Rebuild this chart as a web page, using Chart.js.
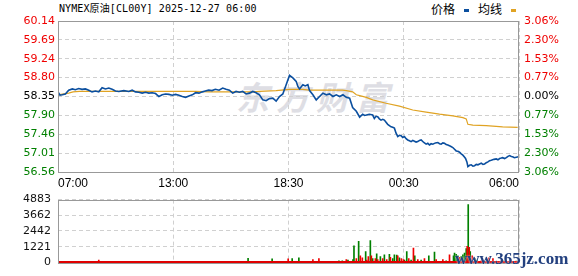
<!DOCTYPE html>
<html>
<head>
<meta charset="utf-8">
<script src="https://cdn.jsdelivr.net/npm/chart.js@4/dist/chart.umd.min.js"></script>
<style>
body{margin:0;background:#fff;width:578px;height:276px;position:relative;overflow:hidden}
canvas{position:absolute;left:0}
#priceChart{top:0}
#volChart{top:186px}
#title{position:absolute;left:59px;top:2px;font:10px "DejaVu Sans Mono","Noto Sans CJK SC",monospace;color:#000;white-space:nowrap;line-height:14px;letter-spacing:0.1px}
#legend{position:absolute;left:431px;top:2px;font:12px "Noto Sans CJK SC",sans-serif;color:#000;line-height:14px;white-space:nowrap}
#legend i{display:inline-block;width:5px;height:3px;vertical-align:middle;margin:0 9px 0 9px}
#wm{position:absolute;left:236px;top:72px;font:italic bold 33px "Noto Sans CJK SC",sans-serif;color:#dedee4;letter-spacing:7px;white-space:nowrap}
#site{position:absolute;left:455px;top:249px;font:bold 17px "Liberation Serif",serif;color:#23407f;white-space:nowrap;text-shadow:0 0 2px #fff}
</style>
</head>
<body>
<div id="wm">东方财富</div>
<div id="title">NYMEX原油[CL00Y] 2025-12-27 06:00</div>
<div id="legend">价格<i style="background:#0b4f9f"></i>均线<i style="background:#e0a323"></i></div>
<canvas id="priceChart" width="578" height="190"></canvas>
<canvas id="volChart" width="578" height="90"></canvas>
<div id="site">www.365jz.com</div>
<script>
// axis labels
var timeTicks = [0, 345, 690, 1035, 1380];
var timeLabels = ['07:00', '13:00', '18:30', '00:30', '06:00'];
var priceTicks = [56.56, 57.01, 57.46, 57.90, 58.35, 58.80, 59.24, 59.69, 60.14];
var pctLabels = ['3.06%', '2.30%', '1.53%', '0.77%', '0.00%', '0.77%', '1.53%', '2.30%', '3.06%'];
var prevClose = 58.35;
var volTicks = [0, 1221, 2442, 3662, 4883];

// price line (minutes after 07:00)
var priceMin = [0,6,13,22,32,43,52,62,72,82,92,102,112,122,132,142,152,162,172,182,197,212,222,232,242,252,262,272,282,292,302,312,322,332,342,352,362,372,382,392,402,412,422,432,441,451,461,471,482,493,503,513,523,533,543,553,563,573,583,593,603,613,623,633,643,653,663,673,683,693,703,713,718,723,733,740,748,753,763,773,783,793,803,813,823,833,843,853,863,873,882,893,903,912,918,923,932,942,947,952,957,962,967,972,977,982,987,992,997,1002,1007,1012,1017,1022,1027,1032,1037,1042,1047,1052,1057,1062,1067,1072,1077,1082,1087,1095,1102,1107,1112,1117,1122,1130,1137,1142,1147,1152,1157,1162,1167,1175,1182,1187,1192,1197,1202,1207,1212,1216,1220,1224,1227,1232,1237,1242,1247,1252,1257,1262,1267,1272,1277,1282,1287,1292,1297,1305,1312,1317,1322,1327,1331,1337,1342,1347,1352,1357,1361,1366,1372,1378];
var priceVal = [58.46,58.38,58.39,58.41,58.50,58.53,58.51,58.54,58.52,58.53,58.50,58.46,58.48,58.46,58.56,58.53,58.55,58.52,58.48,58.47,58.49,58.47,58.50,58.46,58.45,58.43,58.45,58.43,58.44,58.42,58.35,58.39,58.41,58.40,58.38,58.40,58.38,58.35,58.33,58.36,58.39,58.44,58.43,58.46,58.48,58.50,58.49,58.52,58.50,58.55,58.52,58.50,58.43,58.47,58.45,58.47,58.41,58.43,58.47,58.44,58.39,58.27,58.25,58.30,58.31,58.24,58.35,58.41,58.63,58.85,58.79,58.71,58.59,58.53,58.63,58.60,58.63,58.49,58.39,58.27,58.35,58.43,58.39,58.41,58.35,58.39,58.35,58.39,58.33,58.31,58.09,58.00,57.86,57.93,57.90,57.91,57.93,57.91,57.83,57.88,57.87,57.82,57.79,57.81,57.79,57.74,57.69,57.66,57.63,57.62,57.60,57.48,57.40,57.43,57.42,57.38,57.40,57.35,57.32,57.30,57.28,57.31,57.29,57.27,57.28,57.31,57.32,57.26,57.22,57.24,57.20,57.23,57.22,57.25,57.26,57.23,57.22,57.25,57.24,57.21,57.20,57.17,57.14,57.10,57.06,57.05,57.03,56.99,56.96,56.92,56.88,56.80,56.69,56.72,56.73,56.70,56.71,56.74,56.73,56.75,56.77,56.74,56.75,56.78,56.80,56.83,56.84,56.86,56.87,56.85,56.88,56.89,56.90,56.88,56.90,56.93,56.95,56.93,56.92,56.90,56.91,56.92];

// average line
var avgMin = [0,32,45,64,214,412,453,582,603,653,693,732,753,852,863,882,893,903,923,942,982,1022,1062,1102,1142,1182,1212,1222,1227,1242,1282,1331,1376];
var avgVal = [58.39,58.43,58.46,58.47,58.47,58.47,58.46,58.46,58.47,58.49,58.52,58.52,58.50,58.50,58.49,58.46,58.39,58.37,58.33,58.27,58.19,58.12,58.03,57.98,57.93,57.89,57.85,57.82,57.69,57.67,57.66,57.63,57.62];

// volume
var upMin = [122,689,763,781,863,893,905,911,924,929,938,950,957,972,984,995,1017,1028,1034,1050,1064,1077,1097,1132,1152,1172,1202,1225,1231,1240,1267,1290,1302,1352];
var upVol = [180,270,220,290,220,290,510,360,180,450,510,290,220,290,220,400,510,290,220,290,1110,220,290,220,220,580,400,1250,1180,510,130,360,290,110];
var downMin = [569,641,701,721,841,851,868,883,886,900,921,935,942,954,965,977,992,1002,1007,1014,1022,1037,1044,1057,1068,1087,1110,1127,1162,1184,1187,1192,1197,1207,1212,1217,1222,1228,1234,1248,1254,1332,1372];
var downVol = [310,270,290,360,130,130,180,220,1290,1630,850,1690,290,670,450,580,620,290,580,560,360,180,850,180,510,180,510,800,130,510,730,620,510,450,580,730,1070,4500,850,290,180,130,110];

function pts(xs, ys){
	return xs.map(function(x, i){ return {x: x, y: ys[i]}; });
}

function tickColor(ctx){
	var v = ctx.tick.value;
	if (v > prevClose + 1e-6) return '#f00000';
	if (v < prevClose - 1e-6) return '#008000';
	return '#000';
}

var boxPlugin = {
	id: 'box',
	afterDraw: function(chart){
		var a = chart.chartArea, c = chart.ctx;
		c.save();
		c.strokeStyle = '#999';
		c.lineWidth = 1;
		c.strokeRect(Math.round(a.left) + 0.5, Math.round(a.top) + 0.5, Math.round(a.right - a.left) - 1, Math.round(a.bottom - a.top));
		c.restore();
	}
};

// thin run of small volumes along the base of the volume panel
var baseLine = {
	id: 'baseLine',
	afterDraw: function(chart){
		var a = chart.chartArea, c = chart.ctx;
		c.save();
		c.fillStyle = '#e00000';
		c.fillRect(a.left + 1, Math.round(a.bottom) - 1, a.right - a.left - 2, 2);
		c.restore();
	}
};

var gridDash = {display: false, dash: [4, 3]};
var tickFont = {family: 'DejaVu Sans', size: 11};

var xScale = {
	type: 'linear', min: 0, max: 1380,
	afterBuildTicks: function(s){ s.ticks = timeTicks.map(function(v){ return {value: v}; }); },
	afterFit: function(s){ s.height = 18; },
	grid: {color: '#d0d0d0', drawTicks: false},
	border: gridDash,
	ticks: {
		autoSkip: false, maxRotation: 0, align: 'inner', padding: 4, color: '#000',
		font: {family: 'Liberation Sans', size: 12},
		callback: function(v, i){ return timeLabels[i]; }
	}
};

new Chart(document.getElementById('priceChart'), {
	type: 'line',
	data: {
		datasets: [{
			label: '价格',
			data: pts(priceMin, priceVal),
			borderColor: '#0b4f9f', borderWidth: 1.6, pointRadius: 0, tension: 0
		}, {
			label: '均线',
			data: pts(avgMin, avgVal),
			borderColor: '#e0a323', borderWidth: 1.2, pointRadius: 0, tension: 0
		}]
	},
	options: {
		responsive: false, animation: false,
		layout: {padding: {top: 21, left: 0, right: 0, bottom: 0}},
		plugins: {legend: {display: false}, tooltip: {enabled: false}},
		scales: {
			x: xScale,
			y: {
				position: 'left', min: 56.56, max: 60.14,
				afterBuildTicks: function(s){ s.ticks = priceTicks.map(function(v){ return {value: v}; }); },
				afterFit: function(s){ s.width = 58; },
				grid: {color: '#d0d0d0', drawTicks: false},
				border: gridDash,
				ticks: {
					padding: 3, color: tickColor, font: tickFont,
					callback: function(v){ return v.toFixed(2); }
				}
			},
			yR: {
				position: 'right', min: 56.56, max: 60.14,
				afterBuildTicks: function(s){ s.ticks = priceTicks.map(function(v){ return {value: v}; }); },
				afterFit: function(s){ s.width = 59; },
				grid: {display: false, drawTicks: false},
				border: {display: false},
				ticks: {
					padding: 5, color: tickColor, font: tickFont,
					callback: function(v, i){ return pctLabels[i]; }
				}
			}
		}
	},
	plugins: [boxPlugin]
});

new Chart(document.getElementById('volChart'), {
	type: 'bar',
	data: {
		datasets: [{
			label: 'up',
			data: pts(upMin, upVol),
			backgroundColor: '#f00000', barThickness: 1, grouped: false
		}, {
			label: 'down',
			data: pts(downMin, downVol),
			backgroundColor: '#008000', barThickness: 1, grouped: false
		}]
	},
	options: {
		responsive: false, animation: false,
		layout: {padding: {top: 10, left: 0, right: 59, bottom: 0}},
		plugins: {legend: {display: false}, tooltip: {enabled: false}},
		scales: {
			x: {
				type: 'linear', min: 0, max: 1380, offset: false,
				afterBuildTicks: function(s){ s.ticks = timeTicks.map(function(v){ return {value: v}; }); },
				afterFit: function(s){ s.height = 7; },
				grid: {color: '#d0d0d0', drawTicks: false, offset: false},
				border: gridDash,
				ticks: {display: false}
			},
			y: {
				min: 0, max: 4883,
				afterBuildTicks: function(s){ s.ticks = volTicks.map(function(v){ return {value: v}; }); },
				afterFit: function(s){ s.width = 58; },
				grid: {color: '#d0d0d0', drawTicks: false},
				border: gridDash,
				ticks: {
					padding: 7, color: '#111', font: tickFont,
					callback: function(v){ return String(v); }
				}
			}
		}
	},
	plugins: [boxPlugin, baseLine]
});
</script>
</body>
</html>
